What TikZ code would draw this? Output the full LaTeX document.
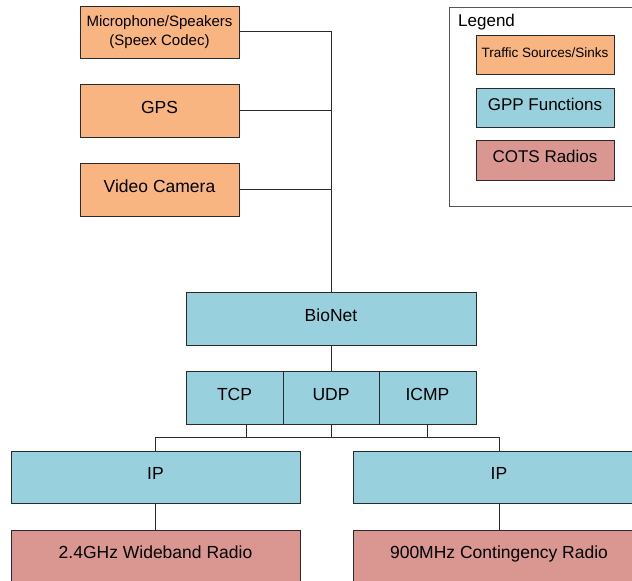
\documentclass[tikz,border=0pt]{standalone}
\usepackage{fontspec}
\setmainfont{Liberation Sans}
\definecolor{srcfill}{HTML}{F8B582}
\definecolor{gppfill}{HTML}{99D0DE}
\definecolor{cotsfill}{HTML}{DA9792}
\definecolor{edge}{HTML}{2A2A2A}
\tikzset{
  blk/.style={draw=edge, line width=0.8pt, inner sep=0pt, anchor=center, align=center,
    font=\fontsize{17.5}{21}\selectfont},
  one/.style={text height=0.72em, text depth=0.22em},
  src/.style={blk, fill=srcfill},
  gpp/.style={blk, fill=gppfill},
  cots/.style={blk, fill=cotsfill},
  wire/.style={draw=edge, line width=0.8pt},
}
\begin{document}
\begin{tikzpicture}[x=1pt,y=-1pt]
\useasboundingbox (0,0) rectangle (632,581);
\clip (0,0) rectangle (632,581);
\fill[white] (0,0) rectangle (632,581);
% sources
\node[src, minimum width=159pt, minimum height=52pt, font=\fontsize{15}{19}\selectfont] (mic) at (159.5,32.5) {Microphone/Speakers\\(Speex Codec)};
\node[src, one, minimum width=159pt, minimum height=53pt] (gps) at (159.5,110.5) {GPS};
\node[src, one, minimum width=159pt, minimum height=53pt] (video) at (159.5,189.5) {Video Camera};
% GPP
\node[gpp, one, minimum width=290pt, minimum height=53pt] (bionet) at (331,318.5) {BioNet};
\node[gpp, one, minimum width=97pt, minimum height=53pt] (tcp) at (234.5,397.5) {TCP};
\node[gpp, one, minimum width=96pt, minimum height=53pt] (udp) at (331,397.5) {UDP};
\node[gpp, one, minimum width=97pt, minimum height=53pt] (icmp) at (427.5,397.5) {ICMP};
\node[gpp, one, minimum width=289pt, minimum height=52pt] (ipL) at (155.5,477) {IP};
\node[gpp, one, minimum width=292pt, minimum height=52pt] (ipR) at (499,477) {IP};
% radios
\node[cots, one, minimum width=289pt, minimum height=52pt] (radL) at (155.5,556) {2.4GHz Wideband Radio};
\node[cots, one, minimum width=292pt, minimum height=52pt] (radR) at (499,556) {900MHz Contingency Radio};
% connectors
\draw[wire] (mic.east) ++(0,-1.5) coordinate (micout) -| (bionet.north);
\draw[wire] (gps.east) -- (gps.east -| bionet.north);
\draw[wire] (video.east) -- (video.east -| bionet.north);
\draw[wire] (bionet.south) -- (udp.north);
\coordinate (bus) at (331,437);
\coordinate (tcpdrop) at (246,424);
\draw[wire] (tcpdrop) -- (tcpdrop |- bus);
\draw[wire] (udp.south) -- (udp.south |- bus);
\draw[wire] (icmp.south) -- (icmp.south |- bus);
\draw[wire] (ipL.north) -- (ipL.north |- bus) -- (ipR.north |- bus) -- (ipR.north);
\draw[wire] (ipL.south) -- (radL.north);
\draw[wire] (ipR.south) -- (radR.north);
% legend
\draw[draw=edge!80, line width=0.6pt] (449,7) rectangle (645,206);
\node[anchor=base west, inner sep=0pt, font=\fontsize{17}{20}\selectfont] (legtitle) at (458,26) {Legend};
\node[src, one, minimum width=138pt, minimum height=39pt, font=\fontsize{13.5}{16}\selectfont] (legsrc) at (545,54.5) {Traffic Sources/Sinks};
\node[gpp, one, minimum width=138pt, minimum height=39pt, font=\fontsize{17}{20}\selectfont] (leggpp) at (545,107.5) {GPP Functions};
\node[cots, one, minimum width=138pt, minimum height=40pt, font=\fontsize{17}{20}\selectfont] (legcots) at (545,160) {COTS Radios};
\end{tikzpicture}
\end{document}
